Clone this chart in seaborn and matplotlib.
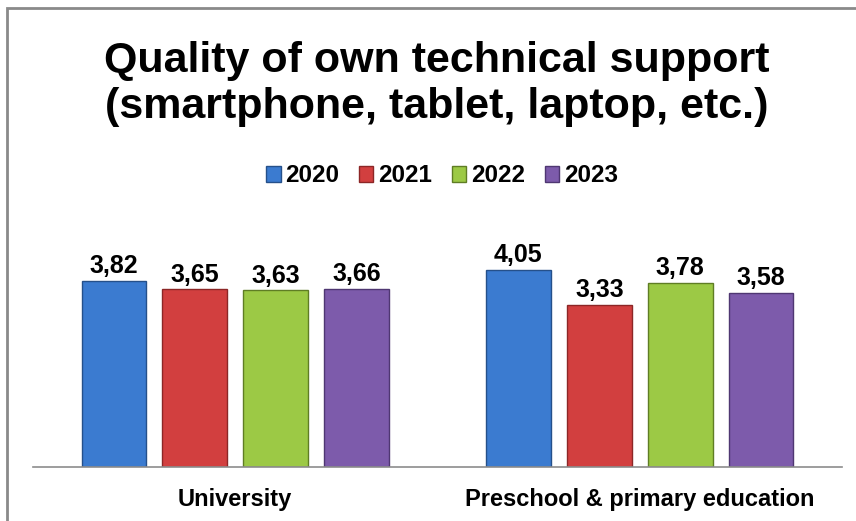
import matplotlib
matplotlib.use("Agg")
import matplotlib.pyplot as plt
from matplotlib.patches import Rectangle
import pandas as pd
import seaborn as sns

categories = ["University", "Preschool & primary education"]
years = ["2020", "2021", "2022", "2023"]
v2020 = [3.82, 4.05]
v2021 = [3.65, 3.33]
v2022 = [3.63, 3.78]
v2023 = [3.66, 3.58]

colors = ["#3b7bd0", "#d23f3f", "#9cc945", "#7d5bab"]
edges = ["#25508a", "#8c2626", "#5f7d24", "#4f3772"]

rows = []
for yr, vals in zip(years, [v2020, v2021, v2022, v2023]):
    for cat, v in zip(categories, vals):
        rows.append({"category": cat, "year": yr, "value": v})
df = pd.DataFrame(rows)

sns.set_theme(style="white")
plt.rcParams["font.family"] = ["Liberation Sans", "DejaVu Sans"]
plt.rcParams["text.color"] = "black"

fig = plt.figure(figsize=(8.56, 5.21), dpi=100)
ax = fig.add_axes([33 / 856, 54 / 521, 809 / 856, 219 / 521])

sns.barplot(data=df, x="category", y="value", hue="year", palette=colors,
            width=0.8, gap=0.2, ax=ax, saturation=1, legend=True)

# darker outlines per series, like the bevelled bars
for cont, ec in zip(ax.containers, edges):
    for bar in cont:
        bar.set_edgecolor(ec)
        bar.set_linewidth(1.0)
    ax.bar_label(cont, labels=[f"{b.get_height():.2f}".replace(".", ",") for b in cont],
                 padding=2, fontsize=18, fontweight="bold", color="black")

ax.set_ylim(0, 4.5)
ax.set_xlim(-0.5, 1.5)
ax.set_xlabel("")
ax.set_ylabel("")
ax.set_yticks([])
ax.tick_params(axis="x", length=0, pad=15)
for lab in ax.get_xticklabels():
    lab.set_fontsize(17)
    lab.set_fontweight("bold")
    lab.set_color("black")
for s in ["top", "left", "right"]:
    ax.spines[s].set_visible(False)
ax.spines["bottom"].set_color("#8c8c8c")
ax.spines["bottom"].set_linewidth(1.2)

handles, labels = ax.get_legend_handles_labels()
ax.legend_.remove()
for h, ec in zip(handles, edges):
    h.set_edgecolor(ec)
fig.legend(handles, labels, loc="center", bbox_to_anchor=(442 / 856, 1 - 176 / 521),
           ncol=4, frameon=False, handlelength=0.6, handleheight=0.6,
           handletextpad=0.2, columnspacing=0.8, prop={"weight": "bold", "size": 17.5})

fig.text(437 / 856, 1 - 84 / 521, "Quality of own technical support\n(smartphone, tablet, laptop, etc.)",
         ha="center", va="center", fontsize=31, fontweight="bold", linespacing=1.22)

# chart frame
fig.add_artist(Rectangle((7 / 856, -0.05), 1.0, 1 - 8 / 521 + 0.05, transform=fig.transFigure,
                         fill=False, edgecolor="#8a8a8a", linewidth=2))

fig.savefig("out.png", dpi=100)
